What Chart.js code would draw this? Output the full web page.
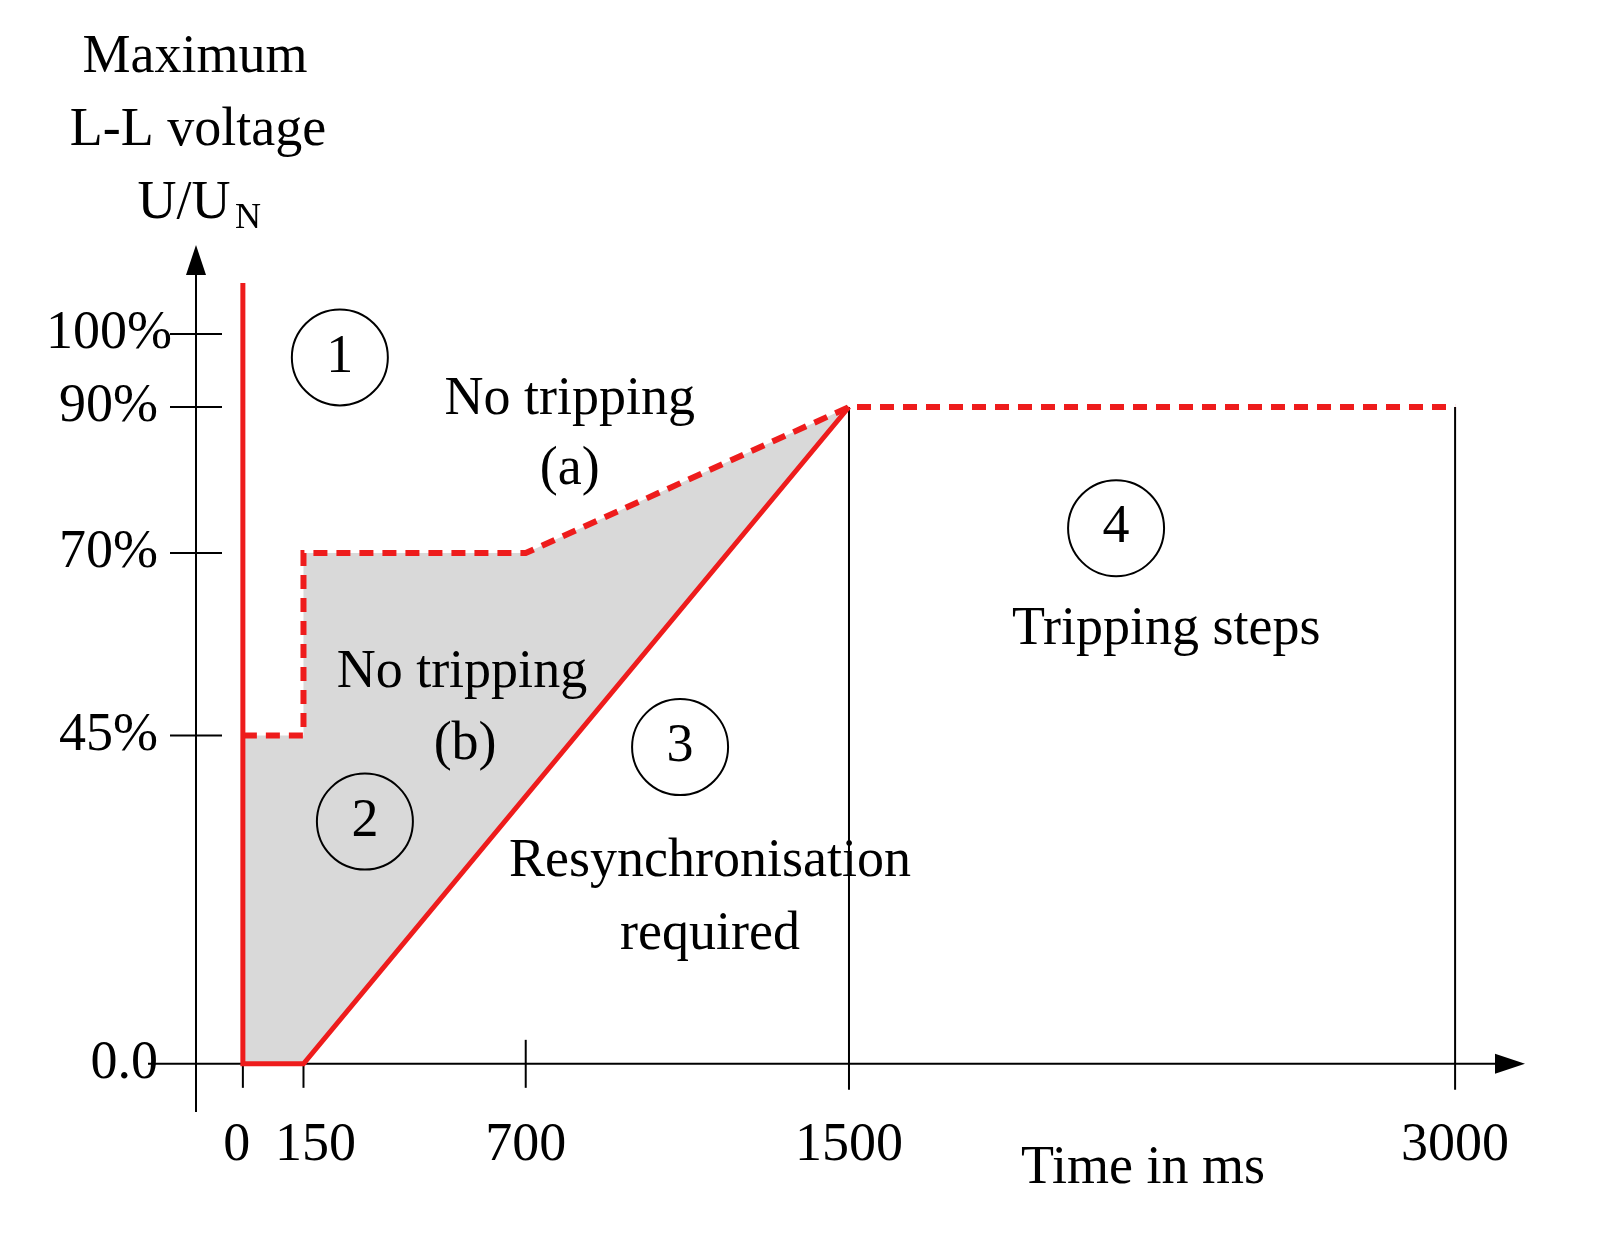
<!DOCTYPE html>
<html><head><meta charset="utf-8">
<script src="https://cdn.jsdelivr.net/npm/chart.js@4/dist/chart.umd.min.js"></script>
<style>html,body{margin:0;background:#fff}canvas{display:block}</style>
</head><body><canvas id="c" width="1604" height="1253"></canvas>
<script>
const xTicks=[0,150,700,1500,3000];
const xTickLabels=['0','150','700','1500','3000'];
const yTicks=[0,45,70,90,100];
const yTickLabels=['0.0','45%','70%','90%','100%'];
const solidX=[0,0,150,1500];
const solidY=[107,0,0,90];
const dashX=[0,150,150,700,1500,3000];
const dashY=[45,45,70,70,90,90];
const fillX=[0,150,150,700,1500,150,0];
const fillY=[45,45,70,70,90,0,0];
const circles=[['1',240,96.8],['2',302,33.2],['3',1082,43.4],['4',2161,73.4]];
const notes=[['No tripping',809,91],['(a)',809,81.4],['No tripping',542,53.6],['(b)',550,43.7],
 ['Resynchronisation',1156,27.7],['required',1156,17.7],['Tripping steps',2285,59.5]];
const pts=(xs,ys)=>xs.map((x,i)=>({x,y:ys[i]}));
const FONT='54px "Liberation Serif"';
const deco={id:'deco',
 beforeDatasetsDraw(ch){const c=ch.ctx,X=ch.scales.x,Y=ch.scales.y,a=ch.chartArea;
  c.save();c.strokeStyle='#000';c.fillStyle='#000';c.lineWidth=2;
  const y0=Y.getPixelForValue(0);
  c.beginPath();c.moveTo(148,y0);c.lineTo(a.right-25,y0);c.stroke();
  c.beginPath();c.moveTo(a.right,y0);c.lineTo(a.right-30,y0-10);c.lineTo(a.right-30,y0+10);c.fill();
  c.beginPath();c.moveTo(a.left,a.bottom);c.lineTo(a.left,a.top+25);c.stroke();
  c.beginPath();c.moveTo(a.left,a.top);c.lineTo(a.left-10,a.top+30);c.lineTo(a.left+10,a.top+30);c.fill();
  yTicks.forEach(v=>{if(v===0)return;const p=Y.getPixelForValue(v);c.beginPath();c.moveTo(170,p);c.lineTo(222,p);c.stroke();});
  c.beginPath();let p=X.getPixelForValue(700);c.moveTo(p,y0-24);c.lineTo(p,y0+24);c.stroke();
  [0,150].forEach(v=>{p=X.getPixelForValue(v);c.beginPath();c.moveTo(p,y0);c.lineTo(p,y0+24);c.stroke();});
  [1500,3000].forEach(v=>{p=X.getPixelForValue(v);c.beginPath();c.moveTo(p,Y.getPixelForValue(90));c.lineTo(p,y0+26);c.stroke();});
  c.restore();},
 afterDatasetsDraw(ch){const c=ch.ctx,X=ch.scales.x,Y=ch.scales.y;
  c.save();c.fillStyle='#000';c.strokeStyle='#000';c.font=FONT;c.lineWidth=2;
  c.textAlign='right';c.textBaseline='middle';
  yTicks.forEach((v,i)=>c.fillText(yTickLabels[i],i===4?172:158,Y.getPixelForValue(v)));
  c.textAlign='center';c.textBaseline='alphabetic';
  const off=[-6,12,0,0,0];
  xTicks.forEach((v,i)=>c.fillText(xTickLabels[i],X.getPixelForValue(v)+off[i],1160));
  c.fillText('Time in ms',1143,1183);
  c.fillText('Maximum',195,72);c.fillText('L-L voltage',198,145);
  c.fillText('U/U',184,218);c.font='36px "Liberation Serif"';c.fillText('N',248,228);c.font=FONT;
  c.textBaseline='middle';
  circles.forEach(([t,x,y])=>{const px=X.getPixelForValue(x),py=Y.getPixelForValue(y);
   c.beginPath();c.arc(px,py,48,0,Math.PI*2);c.stroke();c.fillText(t,px,py);});
  notes.forEach(([t,x,y])=>c.fillText(t,X.getPixelForValue(x),Y.getPixelForValue(y)));
  c.restore();}};
new Chart(document.getElementById('c'),{type:'scatter',
 data:{datasets:[
  {data:pts(fillX,fillY),showLine:true,fill:'shape',backgroundColor:'#d9d9d9',borderWidth:0,pointRadius:0,order:3},
  {data:pts(dashX,dashY),showLine:true,borderColor:'#ee1c1c',borderWidth:6,borderDash:[14,9],pointRadius:0,order:2},
  {data:pts(solidX,solidY),showLine:true,borderColor:'#ee1c1c',borderWidth:5,pointRadius:0,order:1}]},
 options:{responsive:false,animation:false,events:[],
  layout:{padding:{left:196,right:79,top:245,bottom:141}},
  plugins:{legend:{display:false},tooltip:{enabled:false}},
  scales:{x:{type:'linear',display:false,min:-116,max:3173},
          y:{type:'linear',display:false,min:-6.6,max:112.2}}},
 plugins:[deco]});
</script></body></html>
